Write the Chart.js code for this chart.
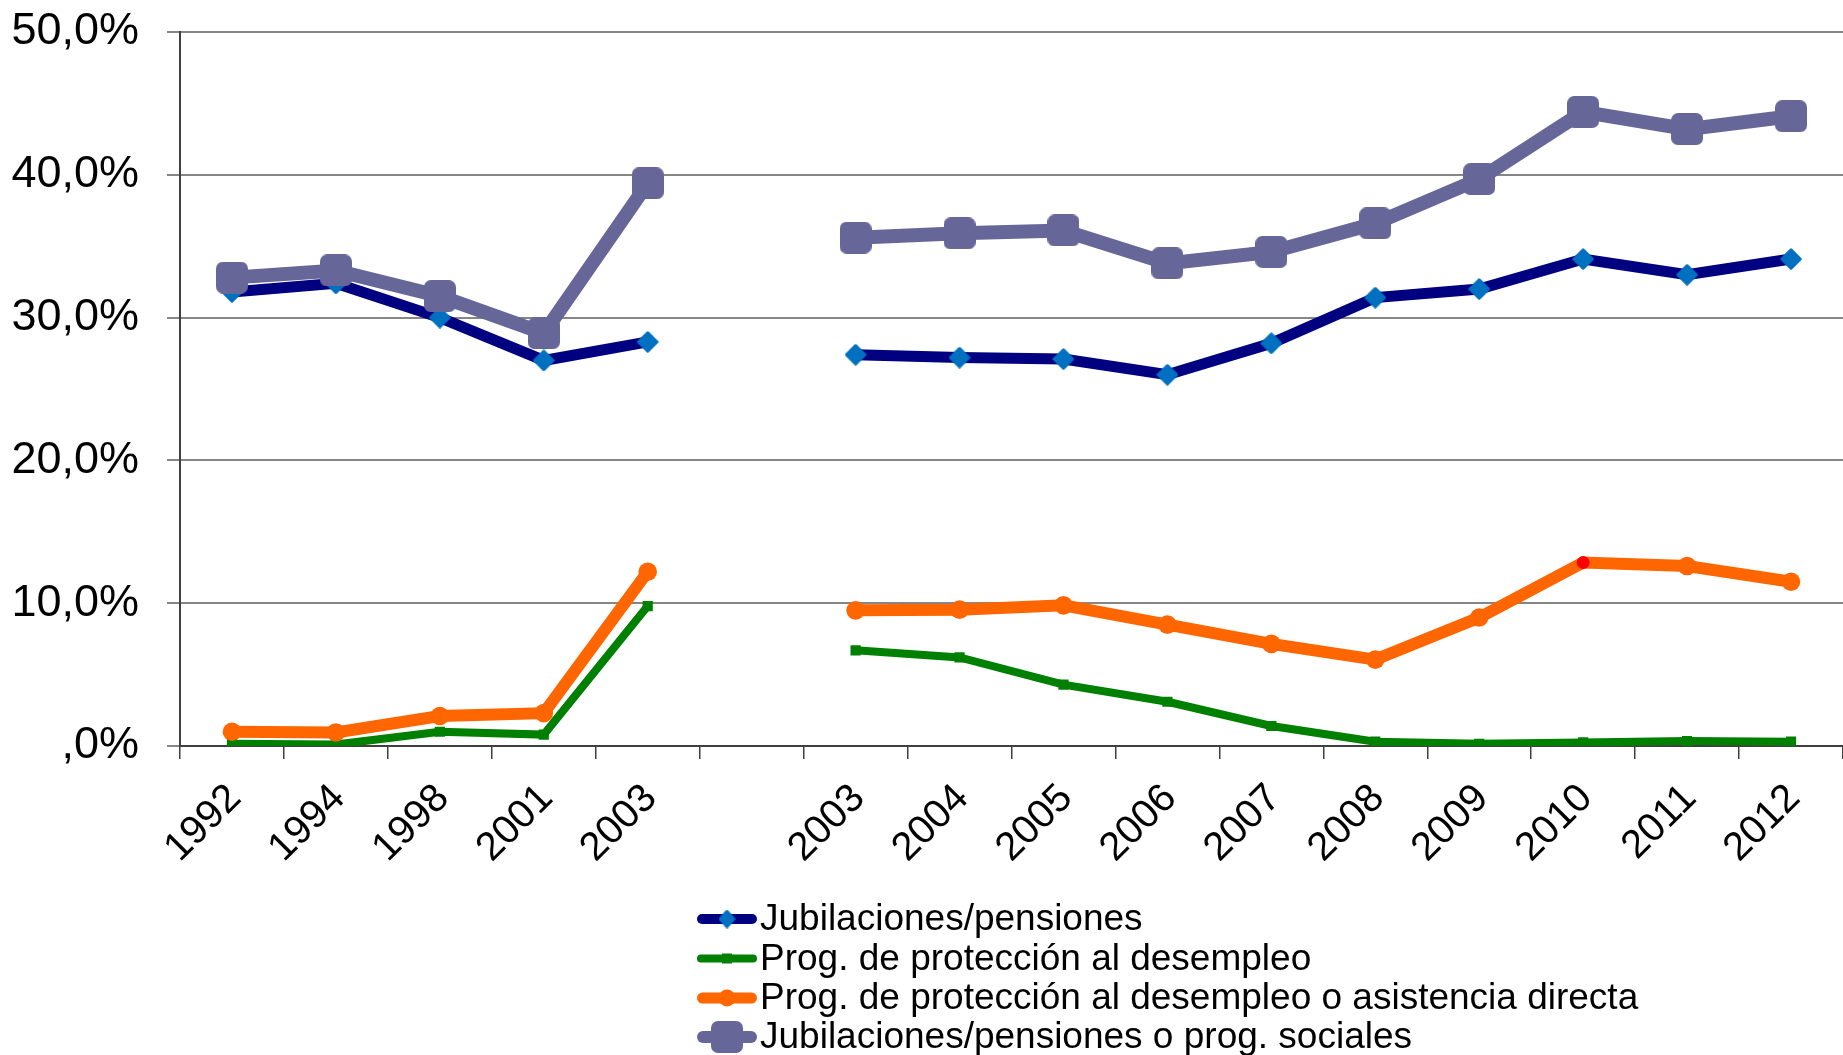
<!DOCTYPE html>
<html>
<head>
<meta charset="utf-8">
<script src="https://cdn.jsdelivr.net/npm/chart.js@4"></script>
<style>
  html, body { margin: 0; padding: 0; background: #ffffff; }
  #wrap { width: 1843px; height: 1055px; position: relative; }
</style>
</head>
<body>
<div id="wrap"><canvas id="c" width="1843" height="1055"></canvas></div>
<script>
// ---- Data (values in %) ----
const categories = ['1992', '1994', '1998', '2001', '2003', '', '2003', '2004', '2005', '2006', '2007', '2008', '2009', '2010', '2011', '2012'];
const jubilaciones = [31.8, 32.4, 30.0, 27.0, 28.3, null, 27.4, 27.2, 27.1, 26.0, 28.2, 31.4, 32.0, 34.1, 33.0, 34.1];
const proteccionDesempleo = [0.15, 0.1, 1.0, 0.8, 9.8, null, 6.7, 6.2, 4.3, 3.1, 1.4, 0.3, 0.15, 0.25, 0.35, 0.3];
const proteccionOAsistencia = [1.0, 0.95, 2.1, 2.3, 12.2, null, 9.5, 9.55, 9.85, 8.5, 7.15, 6.05, 9.0, 12.85, 12.6, 11.5];
const jubilacionesOProgSociales = [32.8, 33.3, 31.5, 28.9, 39.4, null, 35.6, 35.9, 36.1, 33.8, 34.6, 36.6, 39.7, 44.4, 43.2, 44.1];
const seriesNames = [
  'Jubilaciones/pensiones',
  'Prog. de protección al desempleo',
  'Prog. de protección al desempleo o asistencia directa',
  'Jubilaciones/pensiones o prog. sociales'
];
const yTicks = [0, 10, 20, 30, 40, 50];

const FONT = '"Liberation Sans", Arial, Helvetica, sans-serif';

function roundedSquare(size, r, color) {
  const c = document.createElement('canvas');
  c.width = size; c.height = size;
  const g = c.getContext('2d');
  g.fillStyle = color;
  g.beginPath();
  g.moveTo(r, 0);
  g.lineTo(size - r, 0);
  g.arcTo(size, 0, size, r, r);
  g.lineTo(size, size - r);
  g.arcTo(size, size, size - r, size, r);
  g.lineTo(r, size);
  g.arcTo(0, size, 0, size - r, r);
  g.lineTo(0, r);
  g.arcTo(0, 0, r, 0, r);
  g.closePath();
  g.fill();
  return c;
}
function roundedDiamond(w, h, color) {
  const c = document.createElement('canvas');
  c.width = w; c.height = h;
  const g = c.getContext('2d');
  g.fillStyle = color;
  g.strokeStyle = color;
  g.lineWidth = 3;
  g.lineJoin = 'round';
  const cx = w / 2, cy = h / 2, ix = w / 2 - 1.8, iy = h / 2 - 1.8;
  g.beginPath();
  g.moveTo(cx - ix, cy); g.lineTo(cx, cy - iy); g.lineTo(cx + ix, cy); g.lineTo(cx, cy + iy);
  g.closePath();
  g.fill(); g.stroke();
  return c;
}
const purpleMarker = roundedSquare(32, 7, '#666699');
const navyMarker = roundedDiamond(22, 22, '#0070C0');
const navyLegendMarker = roundedDiamond(17, 19, '#0070C0');

const orangePointColors = categories.map((c, i) => i === 13 ? '#FF0000' : '#FF6600');
const orangePointRadius = categories.map((c, i) => i === 13 ? 6.5 : 9.3);

// Custom vertical legend (one entry per line, below the axis)
const legendPlugin = {
  id: 'vlegend',
  afterDraw(chart) {
    const ctx = chart.ctx;
    const x0 = 697, x1 = 757, textX = 760;
    const rows = [919, 958.5, 998, 1037];
    const styles = [
      {color: '#000080', lw: 10, marker: 'diamond'},
      {color: '#008000', lw: 8, marker: 'square', mcolor: '#008000'},
      {color: '#FF6600', lw: 11, marker: 'circle', mcolor: '#FF6600'},
      {color: '#666699', lw: 12, marker: 'image'}
    ];
    ctx.save();
    styles.forEach((s, i) => {
      const y = rows[i];
      const cx = (x0 + x1) / 2;
      ctx.strokeStyle = s.color;
      ctx.lineWidth = s.lw;
      ctx.lineCap = 'round';
      ctx.beginPath();
      ctx.moveTo(x0 + s.lw / 2, y);
      ctx.lineTo(x1 - s.lw / 2, y);
      ctx.stroke();
      ctx.beginPath();
      if (s.marker === 'diamond') {
        ctx.drawImage(navyLegendMarker, cx - navyLegendMarker.width / 2, y - navyLegendMarker.height / 2);
      } else if (s.marker === 'square') {
        ctx.fillStyle = s.mcolor;
        ctx.rect(cx - 5, y - 5, 10, 10); ctx.fill();
      } else if (s.marker === 'circle') {
        ctx.fillStyle = s.mcolor;
        ctx.arc(cx, y, 8.5, 0, Math.PI * 2); ctx.fill();
      } else {
        ctx.drawImage(purpleMarker, cx - purpleMarker.width / 2, y - purpleMarker.height / 2);
      }
      ctx.fillStyle = '#000000';
      ctx.font = '37px ' + FONT;
      ctx.textAlign = 'left';
      ctx.textBaseline = 'middle';
      ctx.fillText(seriesNames[i], textX, y + 1);
    });
    ctx.restore();
  }
};

new Chart(document.getElementById('c'), {
  type: 'line',
  data: {
    labels: categories,
    datasets: [
      {
        label: seriesNames[0],
        data: jubilaciones,
        borderColor: '#000080',
        borderWidth: 11,
        pointStyle: navyMarker,
        pointRadius: 11,
        pointBackgroundColor: '#0070C0',
        pointBorderWidth: 0,
        spanGaps: false,
        order: 4
      },
      {
        label: seriesNames[1],
        data: proteccionDesempleo,
        borderColor: '#008000',
        borderWidth: 8,
        pointStyle: 'rect',
        pointRadius: 7.2,
        pointBackgroundColor: '#008000',
        pointBorderColor: '#008000',
        pointBorderWidth: 0,
        spanGaps: false,
        order: 3
      },
      {
        label: seriesNames[2],
        data: proteccionOAsistencia,
        borderColor: '#FF6600',
        borderWidth: 12,
        pointStyle: 'circle',
        pointRadius: orangePointRadius,
        pointBackgroundColor: orangePointColors,
        pointBorderColor: orangePointColors,
        pointBorderWidth: 0,
        spanGaps: false,
        order: 2
      },
      {
        label: seriesNames[3],
        data: jubilacionesOProgSociales,
        borderColor: '#666699',
        borderWidth: 14,
        pointStyle: purpleMarker,
        pointRadius: 16,
        pointBackgroundColor: '#666699',
        pointBorderWidth: 0,
        spanGaps: false,
        order: 1
      }
    ]
  },
  options: {
    responsive: false,
    devicePixelRatio: 1,
    animation: false,
    events: [],
    layout: { autoPadding: false, padding: { top: 32, right: 0, bottom: 0, left: 0 } },
    plugins: {
      legend: { display: false },
      tooltip: { enabled: false },
      title: { display: false }
    },
    scales: {
      x: {
        type: 'category',
        offset: true,
        grid: {
          display: true,
          offset: true,
          drawOnChartArea: false,
          drawTicks: true,
          tickLength: 13,
          color: '#404040',
          lineWidth: 1.5
        },
        border: { display: true, color: '#404040', width: 2 },
        ticks: {
          autoSkip: false,
          maxRotation: 45,
          minRotation: 45,
          padding: 16,
          labelOffset: 3,
          color: '#000000',
          font: { family: FONT, size: 40 }
        },
        afterFit(scale) {
          scale.height = 309;
          scale.paddingLeft = 0;
          scale.paddingRight = 0;
        }
      },
      y: {
        min: 0,
        max: 50,
        afterBuildTicks(scale) { scale.ticks = yTicks.map(v => ({ value: v })); },
        grid: {
          color: '#868686',
          lineWidth: 2,
          drawTicks: true,
          tickLength: 13
        },
        border: { display: true, color: '#404040', width: 2 },
        ticks: {
          padding: 28,
          color: '#000000',
          font: { family: FONT, size: 45 },
          callback: (v) => v === 0 ? ',0%' : v.toFixed(1).replace('.', ',') + '%'
        },
        afterFit(scale) {
          scale.width = 180;
          scale.paddingTop = 0;
          scale.paddingBottom = 0;
        }
      }
    }
  },
  plugins: [legendPlugin]
});
</script>
</body>
</html>
